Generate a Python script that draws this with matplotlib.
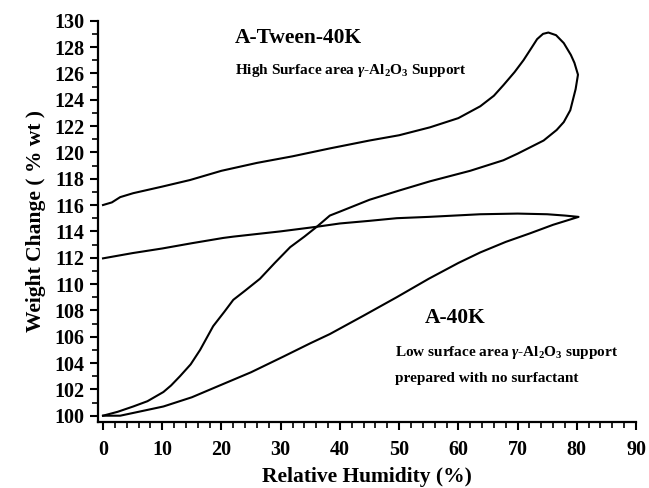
import matplotlib
matplotlib.use("Agg")
import matplotlib.pyplot as plt
from matplotlib.ticker import MultipleLocator

plt.rcParams['font.family'] = ['Liberation Serif', 'DejaVu Serif']
plt.rcParams['font.weight'] = 'bold'
plt.rcParams['mathtext.fontset'] = 'custom'
plt.rcParams['mathtext.rm'] = 'Liberation Serif:bold'
plt.rcParams['mathtext.it'] = 'Liberation Serif:italic:bold'
plt.rcParams['mathtext.bf'] = 'Liberation Serif:bold'

# A-Tween-40K loop (adsorption up, then desorption back)
tween_rh = [0, 1.5, 2.9, 5.1, 10, 14.7, 20, 26, 32, 38.3, 45, 50, 55.2, 60, 63.7, 66,
            67.6, 69.5, 71, 72.3, 73.3, 74.3, 75.2, 76.5, 77.8, 79, 79.6, 80.2,
            79.8, 78.9, 77.8, 76.6, 74.4, 70, 67.6, 62, 55.2, 50, 45, 40, 38.3,
            36.1, 34, 31.6, 29, 26.5, 24, 22, 20.5, 18.6, 17.5, 16.4, 14.8, 13,
            11.5, 10.2, 7.5, 5.1, 2.5, 0]
tween_wt = [116.0, 116.2, 116.6, 116.9, 117.4, 117.9, 118.6, 119.2, 119.7, 120.3,
            120.9, 121.3, 121.9, 122.6, 123.5, 124.3, 125.1, 126.1, 127.0, 127.9,
            128.6, 129.0, 129.1, 128.9, 128.3, 127.4, 126.8, 125.9,
            124.8, 123.2, 122.3, 121.7, 120.9, 119.9, 119.4, 118.6, 117.8, 117.1,
            116.4, 115.5, 115.2, 114.35, 113.6, 112.8, 111.6, 110.4, 109.5, 108.8,
            107.9, 106.8, 105.9, 105.0, 103.9, 103.0, 102.3, 101.8, 101.1, 100.7,
            100.3, 100.0]

# A-40K loop
a40_rh = [0, 2.9, 5, 10.2, 15, 19.2, 25, 30.5, 35, 38.3, 44, 49.6, 55, 60, 63.7,
          68, 72.1, 76, 80.3,
          78, 75, 70, 63.7, 55, 49.6, 45, 40, 36.1, 30, 22, 20.3, 15, 10, 5, 0]
a40_wt = [100.0, 100.0, 100.2, 100.7, 101.4, 102.2, 103.3, 104.5, 105.5, 106.2,
          107.6, 109.0, 110.4, 111.6, 112.4, 113.2, 113.85, 114.5, 115.1,
          115.2, 115.3, 115.35, 115.3, 115.1, 115.0, 114.8, 114.6, 114.35, 114.0,
          113.6, 113.5, 113.1, 112.7, 112.35, 111.95]

fig = plt.figure(figsize=(6.49, 4.88), dpi=100)
ax = fig.add_axes([0.1505, 0.1352, 0.8295, 0.8224])

ax.plot(tween_rh, tween_wt, color='black', lw=1.5)
ax.plot(a40_rh, a40_wt, color='black', lw=1.5)

ax.set_xlim(-0.9, 90)
ax.set_ylim(99.52, 130)
ax.xaxis.set_major_locator(MultipleLocator(10))
ax.xaxis.set_minor_locator(MultipleLocator(2))
ax.yaxis.set_major_locator(MultipleLocator(2))
ax.yaxis.set_minor_locator(MultipleLocator(1))
ax.spines['top'].set_visible(False)
ax.spines['right'].set_visible(False)
for s in ('left', 'bottom'):
    ax.spines[s].set_linewidth(1.6)
ax.tick_params(which='major', direction='out', length=6, width=1.5, labelsize=14.5)
ax.tick_params(which='minor', direction='out', length=4, width=1.2)
ax.tick_params(axis='x', which='major', pad=7)
for lab in ax.get_xticklabels() + ax.get_yticklabels():
    lab.set_fontweight('bold')

ax.set_xlabel('Relative Humidity (%)', fontsize=15.5, fontweight='bold')
ax.xaxis.set_label_coords(0.5, -0.112)
ax.xaxis.label.set_va('top')
ax.set_ylabel('Weight Change ( % wt )', fontsize=15.5, fontweight='bold', labelpad=6)

ax.text(22.3, 128.7, 'A-Tween-40K', fontsize=15.5, fontweight='bold', va='center')
ax.text(22.3, 126.2, r'High Surface area $\gamma$-Al$_2$O$_3$ Support',
        fontsize=11, fontweight='bold', va='center')
ax.text(54.4, 107.4, 'A-40K', fontsize=15.5, fontweight='bold', va='center')
ax.text(49.3, 104.8, r'Low surface area $\gamma$-Al$_2$O$_3$ support',
        fontsize=11, fontweight='bold', va='center')
ax.text(49.3, 102.8, 'prepared with no surfactant',
        fontsize=11, fontweight='bold', va='center')

fig.savefig('out.png', dpi=100)
